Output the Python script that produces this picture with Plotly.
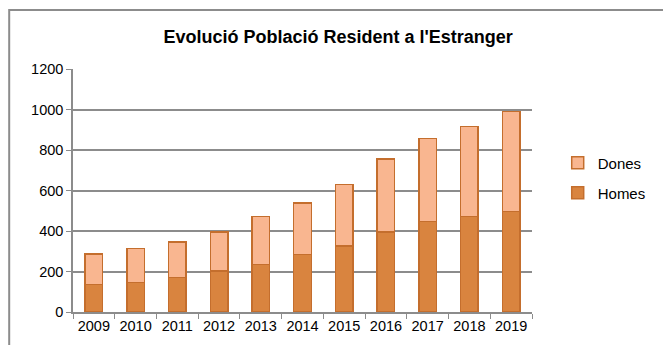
import plotly.graph_objects as go

years = ["2009", "2010", "2011", "2012", "2013", "2014", "2015", "2016", "2017", "2018", "2019"]
homes = [137, 145, 170, 202, 235, 285, 327, 395, 446, 471, 497]
totals = [286, 313, 346, 395, 471, 538, 630, 755, 856, 917, 991]
dones = [t - h for t, h in zip(totals, homes)]

line_col = "#C46E2D"
fig = go.Figure()
fig.add_trace(go.Bar(x=years, y=homes, name="Homes",
                     marker=dict(color="#D9843F", line=dict(color=line_col, width=1.5)),
                     legend="legend2", showlegend=True))
fig.add_trace(go.Bar(x=years, y=dones, name="Dones",
                     marker=dict(color="#F9B690", line=dict(color=line_col, width=1.5)),
                     legend="legend", showlegend=True))

grid = "#8C8C8C"
fig.update_layout(
    width=663, height=345,
    margin=dict(l=73, r=108, t=69, b=33),
    barmode="stack", bargap=0.58,
    showlegend=True,
    paper_bgcolor="white", plot_bgcolor="white",
    font=dict(family="Liberation Sans, Arial, sans-serif", size=14.5, color="#000000"),
    title=dict(text="<b>Evolució Població Resident a l'Estranger</b>",
               x=0.51, xanchor="center", y=0.893, yanchor="middle",
               font=dict(size=18, color="#000000")),
    xaxis=dict(type="category", showline=True, linecolor=grid, linewidth=1.5,
               ticks="outside", tickson="boundaries", ticklen=5, tickcolor=grid,
               showgrid=False, tickfont=dict(size=14.5)),
    yaxis=dict(range=[0, 1200], tickvals=[0, 200, 400, 600, 800, 1000, 1200],
               showgrid=True, gridcolor=grid, gridwidth=1.5,
               showline=True, linecolor=grid, linewidth=1.5,
               ticks="outside", ticklen=5, tickcolor=grid, zeroline=False,
               tickfont=dict(size=14.5)),
    legend=dict(x=1.056, y=0.613, xanchor="left", yanchor="middle",
                bgcolor="rgba(0,0,0,0)", font=dict(size=15), itemwidth=30),
    legend2=dict(x=1.056, y=0.49, xanchor="left", yanchor="middle",
                 bgcolor="rgba(0,0,0,0)", font=dict(size=15), itemwidth=30),
    shapes=[dict(type="rect", xref="paper", yref="paper",
                 x0=-0.139, x1=1.6, y0=-0.6, y1=1.243,
                 line=dict(color="#8C8C8C", width=2), fillcolor="rgba(0,0,0,0)", layer="below")],
)

fig.write_html("out.html", config={"displayModeBar": False},
               post_script="document.body.style.margin='0';document.body.style.padding='0';")
